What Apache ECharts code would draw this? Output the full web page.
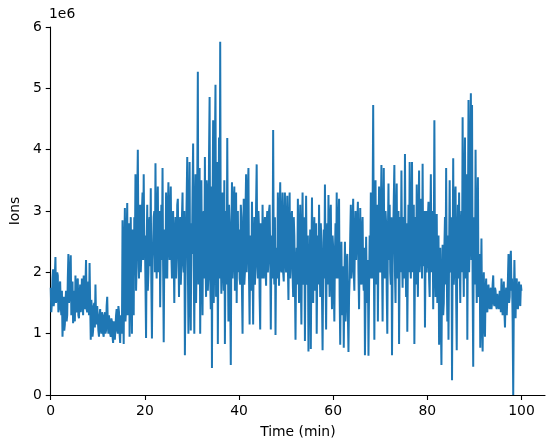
<!DOCTYPE html>
<html>
<head>
<meta charset="utf-8">
<script src="https://cdn.jsdelivr.net/npm/echarts@6/dist/echarts.min.js"></script>
<style>
  html, body { margin: 0; padding: 0; background: #fff; }
  #chart { width: 554px; height: 448px; }
</style>
</head>
<body>
<div id="chart"></div>
<script>
// trace sampled every 0.125 min, values in units of 1e6 ions (one row = 5 min)
var step = 0.125;
var ions = [
  1.75,1.35,1.5,1.9,2.05,1.45,1.55,1.95,2.25,1.5,1.6,2.0,1.95,1.35,1.4,1.8,1.85,1.45,1.3,1.7,0.95,1.3,1.6,1.05,1.15,1.5,1.7,1.2,1.3,1.9,2.3,1.5,1.6,2.0,2.28,1.3,1.45,1.85,1.17,1.7,
  1.5,1.2,1.95,1.4,1.35,1.85,1.9,1.3,1.25,1.6,1.8,1.35,1.45,1.9,1.75,1.3,1.95,1.5,1.4,1.8,2.2,1.4,1.35,1.7,1.85,1.3,2.15,1.5,0.9,1.55,1.4,0.95,1.05,1.45,1.5,1.1,1.8,1.25,1.15,1.45,
  1.25,1.05,0.95,1.3,1.4,1.1,1.0,1.35,1.3,1.0,0.95,1.25,1.35,1.0,1.05,1.45,1.6,1.15,1.0,1.3,1.3,1.0,0.95,1.25,1.2,0.95,0.85,1.2,1.1,0.9,0.9,1.3,1.4,1.05,1.0,1.45,1.35,1.0,0.85,1.3,
  1.2,1.0,2.85,1.5,0.83,2.4,3.05,1.2,1.4,2.6,3.13,1.3,2.2,2.8,0.95,2.3,2.9,1.6,1.0,2.7,2.5,1.3,2.9,2.2,3.6,1.7,2.1,3.2,4.0,2.5,1.9,2.9,3.1,2.0,2.3,3.0,3.3,2.2,3.6,2.4,
  2.6,1.8,0.93,2.4,3.1,1.7,2.0,2.8,2.9,2.1,3.37,1.8,0.92,2.2,2.5,2.9,3.0,2.0,3.78,2.4,1.9,2.9,3.4,2.0,2.3,3.0,1.43,2.5,3.1,2.2,3.7,2.1,0.86,2.3,2.7,1.9,3.3,2.5,1.9,3.0,
  3.47,2.4,2.2,3.0,3.4,2.3,1.9,2.8,3.0,2.2,1.5,2.6,2.9,1.9,2.3,3.1,3.2,2.4,1.6,2.7,2.9,1.8,2.1,2.9,3.3,2.2,2.0,3.0,0.65,1.8,2.6,3.2,3.88,2.2,1.0,2.9,3.8,1.6,1.05,2.8,
  2.3,3.3,4.1,2.1,1.0,2.8,3.6,1.5,2.2,3.4,5.27,1.8,2.6,3.7,1.0,2.5,3.5,2.1,1.3,2.9,3.0,1.9,3.88,2.2,1.6,3.5,3.3,1.7,2.0,3.9,4.86,1.9,1.4,3.4,0.44,3.0,4.48,1.5,2.2,4.0,
  5.06,1.6,2.5,3.8,0.83,2.6,4.2,1.9,5.76,2.4,1.65,3.1,3.3,2.0,1.7,3.5,0.83,2.3,3.0,1.8,4.19,2.4,1.2,3.1,2.8,1.6,0.49,2.5,3.47,1.9,2.2,3.2,3.4,1.7,2.6,3.3,1.5,2.6,3.0,2.0,
  2.7,1.9,1.8,3.1,2.9,1.7,1.0,2.5,3.2,1.8,2.0,3.0,3.6,2.0,2.3,3.3,3.7,1.9,1.15,2.6,2.6,1.7,3.15,2.2,1.15,2.4,2.9,1.8,2.1,3.1,3.76,2.2,1.9,3.0,2.7,1.6,1.07,2.8,2.4,1.9,
  3.1,2.3,1.9,2.7,2.9,2.1,1.78,2.8,3.0,2.0,2.2,3.0,3.1,2.3,1.07,2.4,2.6,1.9,4.32,2.2,1.8,2.9,0.98,2.2,2.4,1.9,3.3,2.3,1.78,2.9,3.47,2.1,2.0,2.9,3.3,2.0,1.85,2.8,3.3,2.2,
  2.0,2.8,3.25,2.1,1.55,2.7,3.3,1.9,2.2,2.9,3.0,2.0,1.6,2.9,2.6,1.8,0.9,2.1,2.4,1.8,3.2,2.3,1.5,2.6,3.1,1.9,1.15,2.5,3.3,1.8,2.1,2.9,0.88,2.2,3.25,2.0,1.8,2.6,0.71,1.9,
  2.2,2.7,0.75,2.2,3.22,2.0,1.5,2.6,2.9,1.7,1.9,2.8,1.0,2.1,2.6,1.8,3.1,2.2,1.6,2.8,2.5,1.6,0.73,2.0,2.7,1.9,3.43,2.1,1.07,2.3,2.8,1.8,3.26,2.2,1.6,2.9,3.1,2.0,1.4,2.6,
  2.4,1.8,1.2,2.3,2.8,1.9,3.3,2.1,1.9,2.8,3.2,1.6,0.82,1.9,2.5,1.4,1.3,2.1,0.77,1.8,2.5,1.2,1.5,2.2,2.3,1.3,0.7,1.6,1.9,2.6,3.1,1.9,2.1,2.8,3.2,2.0,1.7,2.6,3.0,2.2,
  2.2,2.8,3.15,2.0,1.4,2.5,3.05,1.9,1.8,2.7,2.9,1.9,1.7,2.4,0.65,1.6,2.58,1.8,1.5,2.2,0.64,1.7,2.6,1.9,3.3,2.3,1.9,3.0,4.73,2.4,0.9,2.6,3.5,1.8,2.2,3.1,1.2,2.5,3.4,2.1,
  2.0,3.0,3.75,2.2,1.2,2.7,3.7,2.1,1.9,3.0,2.8,1.7,1.0,2.6,3.45,2.2,3.1,2.0,1.8,2.9,0.65,2.1,2.6,3.2,3.75,2.0,1.5,2.8,3.45,1.9,2.0,3.0,0.83,2.2,2.9,2.0,3.66,2.3,1.75,2.9,
  2.6,1.9,3.93,2.3,1.6,2.8,1.03,2.2,3.1,2.0,3.8,2.2,1.9,2.9,3.8,2.0,2.4,3.1,0.83,2.1,2.9,1.8,3.43,2.2,1.6,2.8,3.66,2.0,2.3,3.2,2.9,1.9,3.77,2.1,2.5,3.0,1.1,2.3,3.0,2.0,
  2.2,2.9,3.15,1.9,1.6,2.7,3.6,2.0,2.3,3.0,1.4,2.5,4.48,2.2,1.6,2.6,2.95,1.5,1.9,2.6,0.82,1.8,2.4,1.2,0.49,1.9,2.45,1.3,1.5,2.4,2.9,1.8,3.7,2.0,1.2,2.6,0.9,2.3,3.5,2.1,
  2.0,2.9,0.24,2.2,3.86,1.8,2.1,3.2,3.4,1.6,0.73,2.4,3.1,1.9,3.3,2.2,1.5,2.7,3.0,2.0,4.53,2.3,1.6,3.4,4.2,1.9,2.3,3.6,0.9,2.8,4.81,2.0,2.5,3.9,4.92,2.2,4.73,1.8,0.46,2.9,
  2.6,1.8,4.0,2.2,1.5,2.8,3.55,1.6,1.8,2.3,0.77,1.7,2.55,1.3,0.71,1.6,2.0,1.2,0.95,1.7,1.9,1.4,1.35,1.75,1.8,1.45,1.4,1.7,1.75,1.4,1.5,1.8,1.95,1.5,1.45,1.75,1.7,1.45,1.4,1.65,
  1.65,1.45,1.4,1.7,1.6,1.35,1.9,1.5,1.3,1.65,1.85,1.35,1.1,1.6,1.75,1.3,1.3,1.9,2.3,1.5,1.6,2.2,2.35,1.7,1.9,1.2,0.0,1.5,2.2,1.6,1.25,1.8,1.9,1.45,1.4,1.75,1.85,1.5,1.45,1.8,
  1.7
];
var xTicks = [0, 20, 40, 60, 80, 100];
var yTicks = [0, 1, 2, 3, 4, 5, 6];

var points = [];
for (var i = 0; i < ions.length; i++) {
  points.push([i * step, ions[i]]);
}

var font = 'DejaVu Sans';
var chart = echarts.init(document.getElementById('chart'));
var option = {
  animation: false,
  backgroundColor: '#fff',
  grid: { left: 48, right: 9, top: 27, bottom: 53 },
  textStyle: { fontFamily: font },
  graphic: [{
    type: 'text',
    left: 49,
    top: 7,
    style: { text: '1e6', font: '13.9px "DejaVu Sans"', fill: '#000' }
  }],
  xAxis: {
    type: 'value',
    min: 0,
    max: 105,
    interval: 20,
    name: 'Time (min)',
    nameLocation: 'middle',
    nameGap: 30,
    nameTextStyle: { fontFamily: font, fontSize: 13.9, color: '#000' },
    splitLine: { show: false },
    axisLine: { show: true, onZero: false, lineStyle: { color: '#000', width: 1.1 } },
    axisTick: { show: true, inside: false, length: 5, lineStyle: { color: '#000', width: 1.1 }, customValues: xTicks },
    axisLabel: { fontFamily: font, fontSize: 13.9, color: '#000', margin: 9, customValues: xTicks }
  },
  yAxis: {
    type: 'value',
    min: 0,
    max: 6,
    interval: 1,
    name: 'Ions',
    nameLocation: 'middle',
    nameGap: 25,
    nameRotate: 90,
    nameTextStyle: { fontFamily: font, fontSize: 13.9, color: '#000' },
    splitLine: { show: false },
    axisLine: { show: true, lineStyle: { color: '#000', width: 1.1 } },
    axisTick: { show: true, inside: false, length: 5, lineStyle: { color: '#000', width: 1.1 }, customValues: yTicks },
    axisLabel: { fontFamily: font, fontSize: 13.9, color: '#000', margin: 9, customValues: yTicks }
  },
  series: [{
    type: 'line',
    data: points,
    showSymbol: false,
    symbol: 'none',
    clip: true,
    lineStyle: { color: '#1f77b4', width: 2 },
    itemStyle: { color: '#1f77b4' }
  }]
};
chart.setOption(option);
</script>
</body>
</html>
